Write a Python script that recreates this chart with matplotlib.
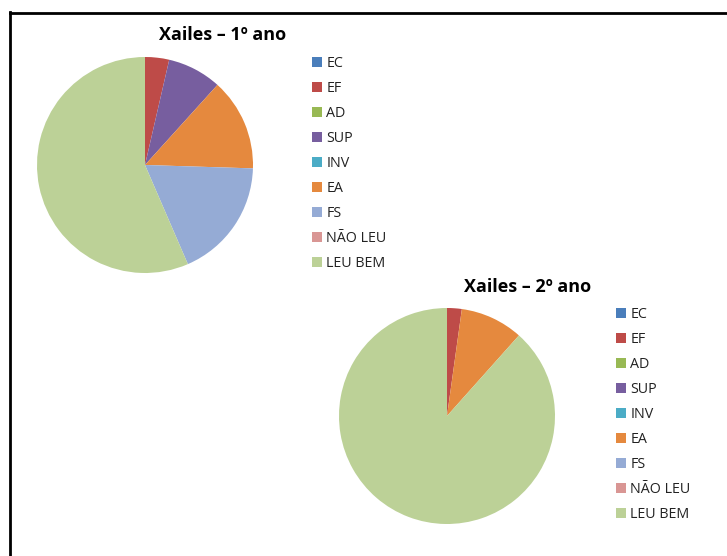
import matplotlib.pyplot as plt
from matplotlib.patches import Patch
from matplotlib.lines import Line2D

plt.rcParams["font.family"] = ["Open Sans", "DejaVu Sans"]

categories = ["EC", "EF", "AD", "SUP", "INV", "EA", "FS", "NÃO LEU", "LEU BEM"]
colors = ["#4A7EBB", "#BE4B48", "#98B954", "#775E9F", "#4BACC6",
          "#E5893E", "#95ABD5", "#D99694", "#BCD197"]

# percentages
ano1 = [0, 3.6, 0, 8.1, 0, 13.8, 18.0, 0, 56.5]
ano2 = [0, 2.2, 0, 0, 0, 9.4, 0, 0, 88.4]

W, H = 727, 556
fig = plt.figure(figsize=(W / 100, H / 100), dpi=100)


def px_axes(left, top, size):
    return fig.add_axes([left / W, (H - top - size) / H, size / W, size / H])


def draw_pie(ax, values, title, title_xy, legend_xy):
    ax.pie(values, colors=colors, startangle=90, counterclock=False,
           wedgeprops=dict(linewidth=0))
    ax.set_xlim(-1, 1)
    ax.set_ylim(-1, 1)
    ax.set_aspect("equal")
    ax.axis("off")
    fig.text(title_xy[0] / W, 1 - title_xy[1] / H, title, ha="center", va="center",
             fontsize=13, fontweight="bold", color="#000000")
    handles = [Patch(facecolor=c, edgecolor="none") for c in colors]
    fig.legend(handles, categories, loc="upper left",
               bbox_to_anchor=(legend_xy[0] / W, 1 - legend_xy[1] / H),
               frameon=False, fontsize=10.3, handlelength=0.7, handleheight=0.7,
               handletextpad=0.3, labelspacing=0.7, borderpad=0, borderaxespad=0,
               labelcolor="#222222")


ax1 = px_axes(37, 57, 216)
draw_pie(ax1, ano1, "Xailes – 1º ano", (223, 35), (312, 56))

ax2 = px_axes(339, 308, 216)
draw_pie(ax2, ano2, "Xailes – 2º ano", (528, 287), (616, 307))

# outer frame (top and left edges visible)
fig.add_artist(Line2D([10 / W, 726 / W], [1 - 13 / H, 1 - 13 / H],
                      transform=fig.transFigure, color="black", linewidth=2))
fig.add_artist(Line2D([10 / W, 10 / W], [1 - 12 / H, 0],
                      transform=fig.transFigure, color="black", linewidth=2))

fig.savefig("out.png", dpi=100)
